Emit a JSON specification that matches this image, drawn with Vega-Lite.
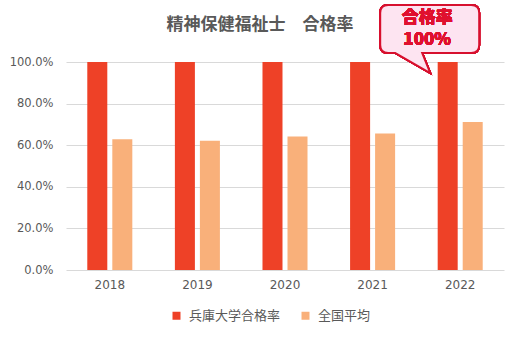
{
  "$schema": "https://vega.github.io/schema/vega-lite/v6.json",
  "autosize": {"type": "none"},
  "width": 438,
  "height": 208,
  "padding": {"left": 66, "top": 62, "right": 19, "bottom": 70},
  "background": "white",
  "title": {
    "text": "精神保健福祉士　合格率",
    "anchor": "middle",
    "dx": -25,
    "offset": -33,
    "font": "Noto Sans CJK JP",
    "fontSize": 17,
    "fontWeight": "bold",
    "color": "#595959"
  },
  "config": {
    "view": {"stroke": null},
    "font": "Noto Sans CJK JP"
  },
  "data": {
    "values": [
      {"year": "2018", "series": "兵庫大学合格率", "rate": 1.0},
      {"year": "2018", "series": "全国平均", "rate": 0.629},
      {"year": "2019", "series": "兵庫大学合格率", "rate": 1.0},
      {"year": "2019", "series": "全国平均", "rate": 0.621},
      {"year": "2020", "series": "兵庫大学合格率", "rate": 1.0},
      {"year": "2020", "series": "全国平均", "rate": 0.642},
      {"year": "2021", "series": "兵庫大学合格率", "rate": 1.0},
      {"year": "2021", "series": "全国平均", "rate": 0.656},
      {"year": "2022", "series": "兵庫大学合格率", "rate": 1.0},
      {"year": "2022", "series": "全国平均", "rate": 0.711}
    ]
  },
  "layer": [
    {
      "mark": {"type": "bar"},
      "encoding": {
        "x": {
          "field": "year",
          "type": "nominal",
          "sort": null,
          "scale": {"paddingInner": 0.486, "paddingOuter": 0.243},
          "axis": {
            "title": null,
            "labelAngle": 0,
            "ticks": false,
            "domain": false,
            "labelPadding": 9,
            "labelFontSize": 12,
            "labelColor": "#595959",
            "labelFont": "DejaVu Sans"
          }
        },
        "xOffset": {
          "field": "series",
          "type": "nominal",
          "sort": ["兵庫大学合格率", "全国平均"],
          "scale": {"paddingInner": 0.2, "paddingOuter": 0}
        },
        "y": {
          "field": "rate",
          "type": "quantitative",
          "scale": {"domain": [0, 1], "nice": false},
          "axis": {
            "title": null,
            "values": [0, 0.2, 0.4, 0.6, 0.8, 1.0],
            "format": ".1%",
            "ticks": false,
            "domain": false,
            "labelPadding": 13,
            "labelFontSize": 11.5,
            "labelColor": "#595959",
            "labelFont": "DejaVu Sans",
            "gridColor": "#d9d9d9",
            "gridWidth": 1
          }
        },
        "color": {
          "field": "series",
          "type": "nominal",
          "sort": ["兵庫大学合格率", "全国平均"],
          "scale": {"domain": ["兵庫大学合格率", "全国平均"], "range": ["#EE4127", "#F9B07A"]},
          "legend": {
            "title": null,
            "orient": "none",
            "direction": "horizontal",
            "legendX": 104,
            "legendY": 247,
            "padding": 0,
            "symbolType": "square",
            "symbolSize": 64,
            "symbolStrokeWidth": 0,
            "labelFontSize": 13,
            "labelColor": "#595959",
            "labelOffset": 6,
            "columnPadding": 18,
            "labelFont": "Noto Sans CJK JP"
          }
        }
      }
    },
    {
      "mark": {
        "type": "point",
        "shape": "M -1.44 -1.14 L 0.22 -1.14 Q 0.38 -1.14 0.38 -0.98 L 0.38 -0.34 Q 0.38 -0.18 0.22 -0.18 L -0.76 -0.18 L -0.6 0.22 L -1.3 -0.18 L -1.44 -0.18 Q -1.6 -0.18 -1.6 -0.34 L -1.6 -0.98 Q -1.6 -1.14 -1.44 -1.14 Z",
        "size": 10000,
        "filled": true,
        "fill": "#FDE4F1",
        "fillOpacity": 1,
        "stroke": "#D7102E",
        "strokeWidth": 2,
        "opacity": 1
      },
      "encoding": {
        "x": {"datum": "2022"},
        "y": {"datum": 1.0}
      }
    },
    {
      "mark": {
        "type": "text",
        "dx": -33,
        "font": "Noto Sans CJK JP",
        "fontSize": 17,
        "fontWeight": 900,
        "color": "#E0102E",
        "baseline": "middle"
      },
      "encoding": {
        "x": {"datum": "2022"},
        "y": {"datum": 1.211},
        "text": {"value": "合格率"}
      }
    },
    {
      "mark": {
        "type": "text",
        "dx": -33,
        "font": "Noto Sans CJK JP",
        "fontSize": 17,
        "fontWeight": 900,
        "color": "#E0102E",
        "baseline": "middle"
      },
      "encoding": {
        "x": {"datum": "2022"},
        "y": {"datum": 1.106},
        "text": {"value": "100%"}
      }
    }
  ]
}
